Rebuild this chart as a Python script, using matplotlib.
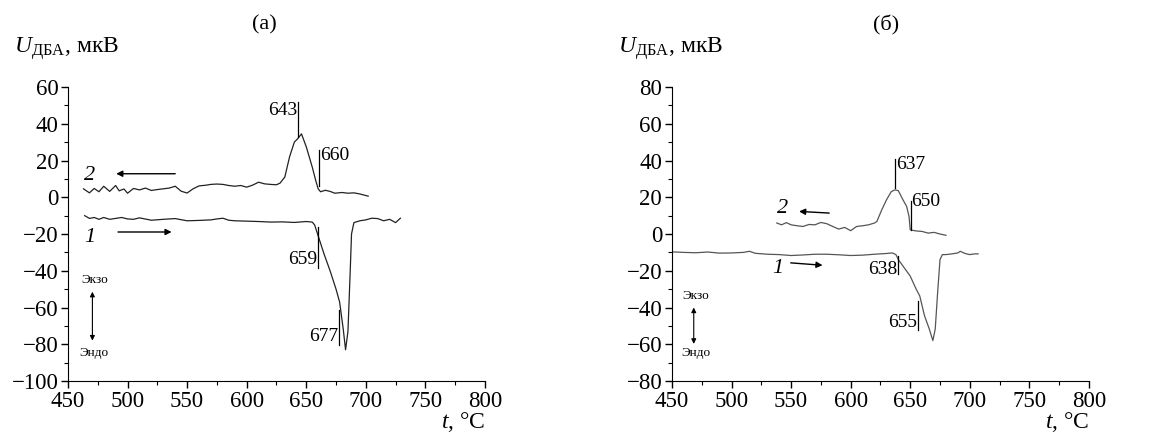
import matplotlib
matplotlib.use("Agg")
import matplotlib.pyplot as plt
from matplotlib.ticker import MultipleLocator

plt.rcParams["font.family"] = ["Liberation Serif", "DejaVu Serif"]
plt.rcParams["mathtext.fontset"] = "custom"
plt.rcParams["mathtext.rm"] = "Liberation Serif"
plt.rcParams["mathtext.it"] = "Liberation Serif:italic"

# (а) curve 2 - cooling
t2_a = [463, 468, 472, 476, 480, 485, 490, 493, 497, 500, 505, 510, 515, 520, 525, 530, 535, 540,
        545, 550, 555, 560, 565, 570, 575, 580, 585, 590, 595, 600, 605, 610, 615, 620, 625, 628,
        632, 636, 640, 643, 646, 650, 655, 658, 660, 662, 666, 670, 674, 680, 685, 690, 695, 702]
u2_a = [4.6, 2.4, 4.8, 3.0, 6.0, 3.2, 6.4, 3.5, 4.5, 2.2, 4.8, 4.0, 5.0, 3.7, 4.2, 4.6, 5.0, 6.0,
        3.3, 2.3, 4.6, 6.2, 6.5, 7.0, 7.2, 7.0, 6.4, 6.0, 6.4, 5.5, 6.6, 8.2, 7.3, 7.0, 6.8, 7.7,
        11.0, 22.0, 30.0, 32.0, 34.5, 27.5, 16.5, 9.0, 4.6, 3.0, 3.8, 3.2, 2.2, 2.6, 2.2, 2.4, 1.8, 0.6]

# (а) curve 1 - heating
t1_a = [464, 468, 472, 476, 480, 485, 490, 495, 500, 505, 510, 520, 530, 540, 550, 560, 570, 575,
        580, 585, 590, 600, 610, 620, 630, 640, 650, 655, 657, 659, 662, 665, 670, 675, 678, 681,
        683, 685, 687, 688, 690, 695, 700, 705, 710, 715, 720, 725, 729]
u1_a = [-10.0, -11.5, -11.0, -12.0, -11.0, -12.0, -11.5, -11.0, -11.8, -12.0, -11.2, -12.5, -12.0, -11.6,
        -12.8, -12.6, -12.3, -11.8, -11.4, -12.5, -12.8, -13.0, -13.2, -13.5, -13.4, -13.7, -13.2, -13.5,
        -15.0, -19.0, -25.0, -31.0, -40.0, -50.0, -57.0, -71.5, -83.0, -73.0, -38.5, -20.0, -13.8,
        -12.8, -12.3, -11.4, -11.6, -12.8, -12.0, -13.8, -11.4]

# (б) curve 2 - cooling
t2_b = [538, 542, 546, 550, 555, 560, 565, 570, 575, 580, 585, 590, 595, 600, 605, 610, 615, 620,
        622, 626, 630, 634, 637, 640, 644, 647, 649, 650, 652, 656, 660, 665, 670, 675, 680]
u2_b = [6.0, 5.0, 6.2, 5.0, 4.5, 4.1, 5.2, 5.0, 6.3, 5.6, 4.1, 2.7, 3.6, 1.8, 4.1, 4.5, 5.0, 6.0,
        6.8, 13.0, 18.5, 23.0, 24.0, 23.6, 18.5, 15.0, 9.5, 2.3, 2.0, 1.6, 1.4, 0.5, 0.9, 0.0, -0.7]

# (б) curve 1 - heating
t1_b = [450, 460, 470, 480, 490, 500, 510, 515, 520, 530, 540, 550, 560, 570, 580, 590, 600, 610,
        620, 630, 635, 638, 640, 645, 650, 655, 658, 662, 666, 669, 671, 673, 675, 677, 680, 685,
        690, 692, 696, 700, 704, 707]
u1_b = [-9.7, -10.0, -10.2, -9.8, -10.4, -10.3, -10.0, -9.4, -10.5, -11.0, -11.2, -11.7, -11.4, -11.0,
        -11.0, -11.3, -11.7, -11.5, -11.0, -10.6, -10.3, -11.2, -13.9, -18.4, -22.9, -30.0, -33.7,
        -44.5, -51.7, -58.0, -51.7, -31.9, -13.9, -11.2, -11.2, -10.8, -10.3, -9.4, -10.6, -11.2,
        -10.8, -10.8]

xticks = [450, 500, 550, 600, 650, 700, 750, 800]

fig = plt.figure(figsize=(11.68, 4.41), dpi=100)
ax1 = fig.add_axes([0.0582, 0.136, 0.357, 0.6667])
ax2 = fig.add_axes([0.5753, 0.136, 0.357, 0.6667])

for ax in (ax1, ax2):
    ax.spines["top"].set_visible(False)
    ax.spines["right"].set_visible(False)
    ax.set_xlim(450, 800)
    ax.set_xticks(xticks)
    ax.xaxis.set_minor_locator(MultipleLocator(25))
    ax.yaxis.set_minor_locator(MultipleLocator(10))
    ax.tick_params(which="major", direction="out", length=5, width=1, labelsize=16.5, pad=2)
    ax.tick_params(which="minor", direction="out", length=3, width=0.8)
    ax.text(1.0, -0.14, "$t$, °C", transform=ax.transAxes, ha="right", va="center", fontsize=17)
    ax.text(-0.13, 1.115, r"$U_{\mathrm{ДБА}}$, мкВ", transform=ax.transAxes,
            ha="left", va="baseline", fontsize=17)

ax1.set_ylim(-100, 60)
ax1.set_yticks(range(-100, 61, 20))
ax2.set_ylim(-80, 80)
ax2.set_yticks(range(-80, 81, 20))
for ax in (ax1, ax2):
    ax.set_yticklabels([str(v).replace("-", "\u2212") for v in ax.get_yticks().astype(int)])

ax1.text(0.472, 1.21, "(а)", transform=ax1.transAxes, ha="center", va="center", fontsize=16)
ax2.text(0.513, 1.21, "(б)", transform=ax2.transAxes, ha="center", va="center", fontsize=16)

# curves
ax1.plot(t2_a, u2_a, color="#222222", lw=0.9)
ax1.plot(t1_a, u1_a, color="#222222", lw=0.9)
ax2.plot(t2_b, u2_b, color="#555555", lw=0.9)
ax2.plot(t1_b, u1_b, color="#555555", lw=0.9)

lab = dict(fontsize=14)
lc = dict(color="k", lw=0.9)

# (а) annotations
ax1.plot([643, 643], [33, 52], **lc)
ax1.text(642.5, 52, "643", ha="right", va="top", **lab)
ax1.plot([661, 661], [6, 25.5], **lc)
ax1.text(662, 23, "660", ha="left", va="center", **lab)
ax1.plot([660, 660], [-16, -38.5], **lc)
ax1.text(659, -38.5, "659", ha="right", va="bottom", **lab)
ax1.plot([677.5, 677.5], [-61.5, -80.5], **lc)
ax1.text(677, -80.5, "677", ha="right", va="bottom", **lab)

# (б) annotations
ax2.plot([637, 637], [25, 41], **lc)
ax2.text(638, 38, "637", ha="left", va="center", **lab)
ax2.plot([650.3, 650.3], [2.3, 17.7], **lc)
ax2.text(651, 17.7, "650", ha="left", va="center", **lab)
ax2.plot([639.6, 639.6], [-12, -22], **lc)
ax2.text(639.2, -19.5, "638", ha="right", va="center", **lab)
ax2.plot([656.5, 656.5], [-36.5, -52.5], **lc)
ax2.text(656, -48, "655", ha="right", va="center", **lab)

arr = dict(arrowstyle="-|>", color="k", lw=1, mutation_scale=9, shrinkA=0, shrinkB=0)
dbl = dict(arrowstyle="<|-|>", color="k", lw=0.8, mutation_scale=7, shrinkA=0, shrinkB=0)

# (а) curve numbers and arrows
ax1.text(468, 12, "2", style="italic", fontsize=16, ha="center", va="center")
ax1.annotate("", xy=(490.5, 12.8), xytext=(540, 12.8), arrowprops=arr)
ax1.text(468, -22, "1", style="italic", fontsize=16, ha="center", va="center")
ax1.annotate("", xy=(537, -18.9), xytext=(492, -18.9), arrowprops=arr)
ax1.text(472, -45, "Экзо", fontsize=9.5, ha="center", va="center")
ax1.annotate("", xy=(470.5, -78), xytext=(470.5, -51.4), arrowprops=dbl)
ax1.text(472, -84.5, "Эндо", fontsize=9.5, ha="center", va="center")

# (б) curve numbers and arrows
ax2.text(543, 14, "2", style="italic", fontsize=16, ha="center", va="center")
ax2.annotate("", xy=(556.7, 12.3), xytext=(582, 11.4), arrowprops=arr)
ax2.text(538.5, -19, "1", style="italic", fontsize=16, ha="center", va="center")
ax2.annotate("", xy=(576.4, -17), xytext=(549.7, -15.7), arrowprops=arr)
ax2.text(469.7, -34, "Экзо", fontsize=9.5, ha="center", va="center")
ax2.annotate("", xy=(468.3, -59.8), xytext=(468.3, -40), arrowprops=dbl)
ax2.text(469.7, -65, "Эндо", fontsize=9.5, ha="center", va="center")

fig.savefig("out.png", dpi=100)
